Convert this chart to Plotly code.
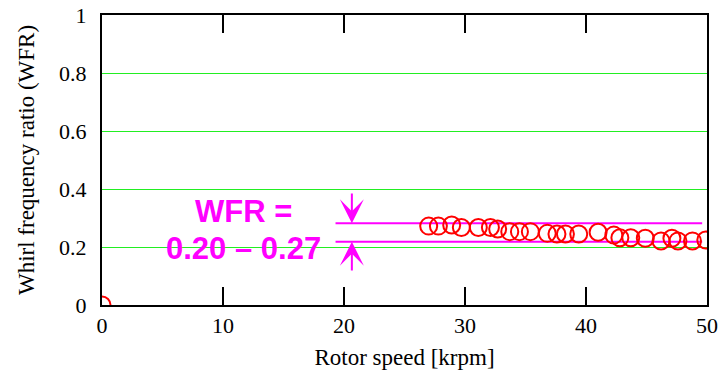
import plotly.graph_objects as go

# Measured whirl frequency ratio vs rotor speed
speed_krpm = [0.0, 27.0, 27.8, 28.9, 29.7, 31.1, 32.1, 32.7, 33.7, 34.5, 35.4,
              36.8, 37.6, 38.3, 39.4, 41.0, 42.3, 42.8, 43.7, 44.9, 46.2,
              47.1, 47.6, 48.8, 49.9]
wfr = [0.0, 0.272, 0.272, 0.276, 0.267, 0.267, 0.267, 0.262, 0.253, 0.253, 0.253,
       0.247, 0.245, 0.245, 0.245, 0.251, 0.241, 0.232, 0.232, 0.230, 0.221,
       0.230, 0.221, 0.221, 0.224]

# Band indicator (upper / lower bound lines) and its label
band_upper = 0.282
band_lower = 0.218
band_x = [19.3, 49.6]
arrow_x = 20.65
arrow_tail_top = 0.39
arrow_tail_bottom = 0.114
label_lines = ["WFR =", "0.20 \u2013 0.27"]
label_x = 11.7
label_y = [0.323, 0.196]

x_ticks = [0, 10, 20, 30, 40, 50]
y_ticks = [0, 0.2, 0.4, 0.6, 0.8, 1.0]
y_tick_text = ["0", "0.2", "0.4", "0.6", "0.8", "1"]

MAGENTA = "#ff00ff"
serif = "Liberation Serif, Times New Roman, serif"

fig = go.Figure()

for yv in (band_upper, band_lower):
    fig.add_trace(go.Scatter(
        x=band_x, y=[yv, yv], mode="lines",
        line=dict(color=MAGENTA, width=2), hoverinfo="skip", showlegend=False))

fig.add_trace(go.Scatter(
    x=speed_krpm, y=wfr, mode="markers",
    marker=dict(symbol="circle-open", size=17, color="#ff0000",
                line=dict(color="#ff0000", width=2)),
    showlegend=False, cliponaxis=True))

# arrows pointing at the band lines
for tip, tail in ((band_upper, arrow_tail_top), (band_lower, arrow_tail_bottom)):
    fig.add_annotation(
        x=arrow_x, y=tip, ax=arrow_x, ay=tail, xref="x", yref="y",
        axref="x", ayref="y", text="", showarrow=True,
        arrowhead=3, arrowsize=2.0, arrowwidth=2, arrowcolor=MAGENTA)

for txt, yv in zip(label_lines, label_y):
    fig.add_annotation(
        x=label_x, y=yv, xref="x", yref="y", text=f"<b>{txt}</b>",
        showarrow=False, xanchor="center", yanchor="middle",
        font=dict(family="Liberation Sans, Arial, sans-serif", size=31, color=MAGENTA))

fig.update_xaxes(
    range=[0, 50], tickvals=x_ticks, ticks="inside", ticklen=18, tickwidth=2,
    tickcolor="black", showline=True, linecolor="black", linewidth=2,
    mirror="ticks", showgrid=False, zeroline=False, automargin=False,
    tickfont=dict(family=serif, size=22, color="black"),
    title=dict(text="Rotor speed [krpm]", font=dict(family=serif, size=23, color="black"),
               standoff=11))
# invisible outside ticks keep the labels clear of the axis line
fig.update_yaxes(
    range=[0, 1], tickvals=y_ticks, ticktext=y_tick_text,
    ticks="outside", ticklen=9, tickcolor="rgba(0,0,0,0)",
    showline=True, linecolor="black", linewidth=2, mirror=True,
    showgrid=True, gridcolor="#22ee22", gridwidth=1, zeroline=False,
    automargin=False,
    tickfont=dict(family=serif, size=22, color="black"),
    title=dict(text="Whirl frequency ratio (WFR)",
               font=dict(family=serif, size=23, color="black"), standoff=18))

fig.update_layout(
    width=722, height=374, margin=dict(l=102, r=15, t=15, b=69),
    plot_bgcolor="white", paper_bgcolor="white", showlegend=False)

# redraw once after the first render so every axis layer is refreshed
fig.write_html("out.html", post_script="Plotly.redraw(document.getElementById('{plot_id}'));")
